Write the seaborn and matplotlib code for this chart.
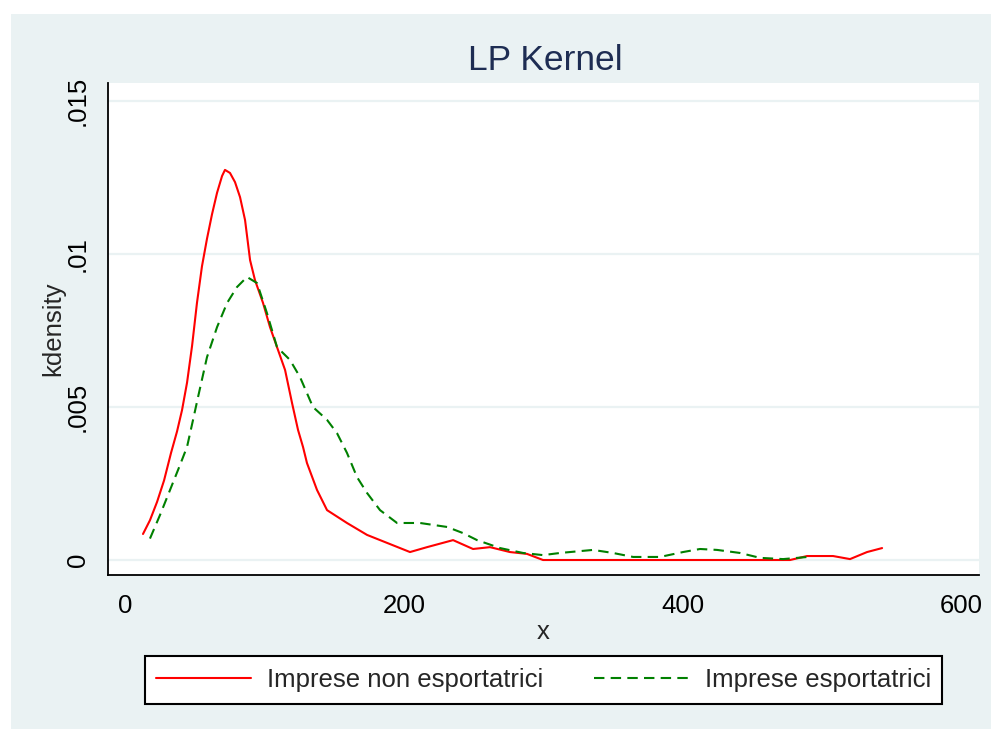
import matplotlib
matplotlib.use("Agg")
import matplotlib.pyplot as plt
from matplotlib.patches import Rectangle
from matplotlib.lines import Line2D
import numpy as np
import pandas as pd
import seaborn as sns

# Kernel density estimates of LP productivity
non_exp_x = [12.9, 17.9, 23.0, 28.0, 33.0, 37.3, 40.9, 44.5, 48.1, 51.6, 55.2, 58.8,
             62.4, 66.0, 69.6, 71.7, 75.3, 78.9, 82.5, 86.1, 89.7, 93.2, 99.0, 104.0,
             109.0, 114.8, 119.8, 124.1, 127.7, 130.5, 137.7, 144.9, 159.2, 173.6,
             187.9, 204.4, 216.6, 235.3, 249.6, 261.8, 276.1, 288.3, 299.8, 477.0,
             489.2, 507.8, 520.0, 532.2, 543.0]
non_exp_y = [0.00085, 0.0013, 0.0019, 0.0026, 0.0035, 0.0042, 0.0049, 0.0058,
             0.0070, 0.0084, 0.0096, 0.0105, 0.0113, 0.0120, 0.01255, 0.01275,
             0.01265, 0.01235, 0.01186, 0.01111, 0.0098, 0.00915, 0.0084, 0.00761,
             0.00696, 0.00621, 0.00513, 0.00425, 0.00369, 0.00317, 0.00229, 0.00163,
             0.00121, 0.00082, 0.00056, 0.00026, 0.00042, 0.00065, 0.00036, 0.00042,
             0.00026, 0.0002, 0.0, 0.0, 0.00013, 0.00013, 0.00003, 0.00026, 0.00039]

exp_x = [17.9, 25.1, 32.3, 39.4, 44.5, 48.8, 52.4, 58.8, 66.0, 73.2, 80.3, 87.5,
         94.7, 101.8, 109.0, 118.3, 125.5, 134.8, 144.9, 152.0, 159.2, 166.4, 173.6,
         182.9, 195.1, 211.6, 231.0, 242.4, 252.5, 269.0, 285.5, 299.8, 312.0, 335.7,
         350.0, 364.4, 383.7, 400.2, 412.4, 424.6, 441.1, 455.5, 472.0, 489.9]
exp_y = [0.0007, 0.00147, 0.00229, 0.0031, 0.0037, 0.00458, 0.00533, 0.00663,
         0.00761, 0.0084, 0.00892, 0.00925, 0.00905, 0.00807, 0.00696, 0.00654,
         0.00598, 0.0050, 0.00458, 0.00415, 0.0035, 0.00271, 0.00219, 0.00163,
         0.00121, 0.00121, 0.00108, 0.00088, 0.00065, 0.00039, 0.00023, 0.00016,
         0.00023, 0.00033, 0.00023, 0.0001, 0.0001, 0.00026, 0.00036, 0.00033,
         0.00023, 0.00007, 0.00003, 0.0001]

series_labels = ["Imprese non esportatrici", "Imprese esportatrici"]
x_ticks = [0, 200, 400, 600]
y_ticks = [0, 0.005, 0.01, 0.015]
y_tick_labels = ["0", ".005", ".01", ".015"]

BG = "#EAF2F3"
NAVY = "#1E2D53"
RED = "#FF0000"
GREEN = "#008000"
DASH = (0, (5.0, 3.0))

sns.set_style("white")
plt.rcParams["font.family"] = ["Liberation Sans", "DejaVu Sans"]

W, H = 991, 729
fig = plt.figure(figsize=(W / 100, H / 100), dpi=100, facecolor="white")
fig.patches.append(Rectangle((11 / W, 0), 1 - 11 / W, 1 - 14 / H,
                             transform=fig.transFigure, facecolor=BG,
                             edgecolor="none", zorder=-10))

ax = fig.add_axes([108 / W, (H - 575) / H, (979 - 108) / W, (575 - 83) / H])
ax.set_facecolor("white")

df_non = pd.DataFrame({"x": non_exp_x, "y": non_exp_y})
df_exp = pd.DataFrame({"x": exp_x, "y": exp_y})

sns.lineplot(data=df_non, x="x", y="y", ax=ax, color=RED, lw=1.5,
             sort=False, estimator=None)
sns.lineplot(data=df_exp, x="x", y="y", ax=ax, color=GREEN, lw=1.5,
             sort=False, estimator=None, linestyle=DASH)

ax.set_xlim(-12.2, 612.5)
ax.set_ylim(-0.00049, 0.01559)

ax.set_xticks(x_ticks)
ax.set_xticklabels([str(v) for v in x_ticks], fontsize=18.5)
ax.set_yticks(y_ticks)
ax.set_yticklabels(y_tick_labels, fontsize=18.5, rotation=90, va="center")
ax.tick_params(axis="both", direction="out", length=7, width=1.2, color="black",
               labelcolor="black")
ax.tick_params(axis="x", pad=7)
ax.tick_params(axis="y", pad=6)

ax.yaxis.grid(True, color=BG, lw=1.6)
ax.xaxis.grid(False)
ax.set_axisbelow(True)

for side in ["top", "right"]:
    ax.spines[side].set_visible(False)
for side in ["left", "bottom"]:
    ax.spines[side].set_color("black")
    ax.spines[side].set_linewidth(1.3)

ax.set_xlabel("x", fontsize=18.5, va="center")
ax.xaxis.set_label_coords(0.5, (575 - 632) / 492)
ax.set_ylabel("kdensity", fontsize=18.5, va="center")
ax.yaxis.set_label_coords((53 - 108) / 871, 0.5)

fig.text(545 / W, 1 - 60 / H, "LP Kernel", ha="center", va="center",
         fontsize=25.5, color=NAVY)

handles = [Line2D([], [], color=RED, lw=1.5),
           Line2D([], [], color=GREEN, lw=1.5, linestyle=DASH)]
leg = fig.legend(handles, series_labels, loc="center",
                 bbox_to_anchor=(543.5 / W, 1 - 680 / H), ncol=2, fontsize=18.5,
                 frameon=True, fancybox=False, edgecolor="black",
                 facecolor="white", framealpha=1, handlelength=3.7,
                 handletextpad=0.6, columnspacing=2.0, borderpad=0.45,
                 borderaxespad=0)
leg.get_frame().set_linewidth(1.5)

fig.savefig("out.png", dpi=100, facecolor=fig.get_facecolor())
